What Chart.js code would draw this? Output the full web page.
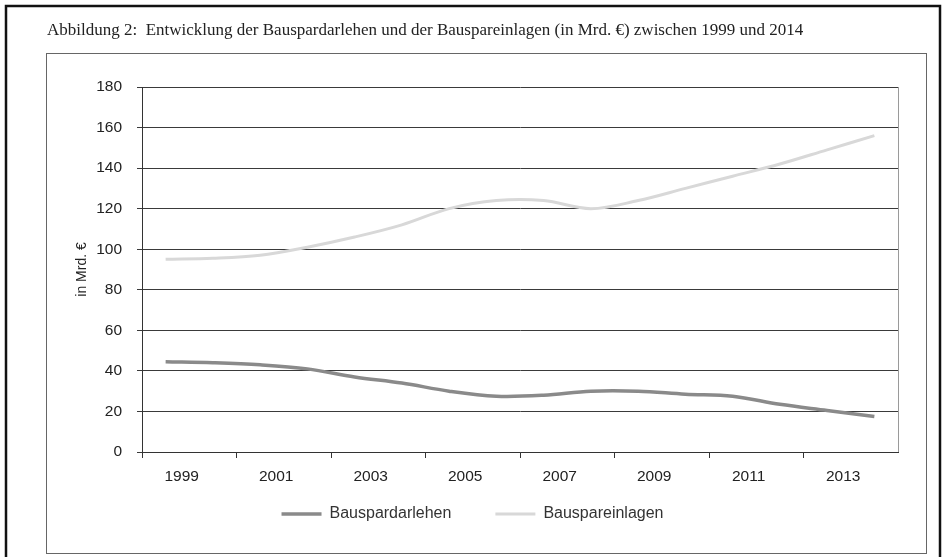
<!DOCTYPE html>
<html><head><meta charset="utf-8">
<script src="https://cdn.jsdelivr.net/npm/chart.js@4.4.1/dist/chart.umd.min.js"></script>
<style>html,body{margin:0;padding:0;background:#fff;} canvas{display:block;}</style>
</head><body>
<canvas id="c" width="946" height="557"></canvas>
<script>
const titleText = 'Abbildung 2:  Entwicklung der Bauspardarlehen und der Bauspareinlagen (in Mrd. €) zwischen 1999 und 2014';
const years = ['1999','2000','2001','2002','2003','2004','2005','2006','2007','2008','2009','2010','2011','2012','2013','2014'];
const seriesNames = ['Bauspardarlehen', 'Bauspareinlagen'];
const bauspardarlehen = [44.5, 44, 43, 41, 37, 34, 30, 27.5, 28, 30, 30, 28.5, 27.5, 23.5, 20.5, 17.5];
const bauspareinlagen = [95, 95.5, 97, 101, 106, 112, 120, 124, 124, 120, 124, 130, 136, 142, 149, 156];
const yMin = 0, yMax = 180, yStep = 20;
const yAxisTitle = 'in Mrd. €';

const sans = "'Liberation Sans', Arial, Helvetica, sans-serif";

const framePlugin = {
  id: 'frame',
  beforeDraw(chart) {
    const ctx = chart.ctx;
    ctx.save();
    ctx.fillStyle = '#ffffff';
    ctx.fillRect(0, 0, chart.width, chart.height);
    ctx.strokeStyle = '#111';
    ctx.lineWidth = 2.5;
    ctx.strokeRect(6, 6, 934, 570);
    ctx.strokeStyle = '#666';
    ctx.lineWidth = 1;
    ctx.strokeRect(46.5, 53.5, 880, 500);
    ctx.restore();
  },
  afterDraw(chart) {
    const a = chart.chartArea, ctx = chart.ctx;
    ctx.save();
    ctx.strokeStyle = '#9a9a9a';
    ctx.lineWidth = 1;
    ctx.beginPath();
    ctx.moveTo(Math.round(a.right) + 0.5, a.top);
    ctx.lineTo(Math.round(a.right) + 0.5, a.bottom);
    ctx.stroke();
    ctx.restore();
  }
};

new Chart(document.getElementById('c'), {
  type: 'line',
  data: {
    labels: years,
    datasets: [
      { label: seriesNames[0], data: bauspardarlehen, borderColor: '#8a8a8a', backgroundColor: '#8a8a8a', borderWidth: 3.5, pointRadius: 0, tension: 0.35, fill: false },
      { label: seriesNames[1], data: bauspareinlagen, borderColor: '#d8d8d8', backgroundColor: '#d8d8d8', borderWidth: 3, pointRadius: 0, tension: 0.35, fill: false }
    ]
  },
  options: {
    responsive: false,
    animation: false,
    devicePixelRatio: 1,
    layout: { padding: { left: 47, right: 48, top: 0, bottom: 25 } },
    plugins: {
      title: {
        display: true, text: titleText, align: 'start', color: '#222',
        font: { family: "'Liberation Serif', 'Times New Roman', serif", size: 17, weight: 'normal' },
        padding: { top: 20, bottom: 46.6 }
      },
      legend: {
        position: 'bottom', align: 'center',
        labels: { usePointStyle: true, pointStyle: 'line', pointStyleWidth: 40, boxHeight: 16, padding: 44, color: '#333', font: { family: sans, size: 16 } }
      },
      tooltip: { enabled: false }
    },
    scales: {
      x: {
        type: 'category', offset: true,
        afterFit(s) { s.height = 10; s._computeLabelArea = function () { return undefined; }; },
        grid: { drawOnChartArea: false, drawTicks: true, tickLength: 6, offset: true, color: (c) => (c.index % 2 === 0 ? '#333' : 'rgba(0,0,0,0)'), lineWidth: 1 },
        border: { display: true, color: '#333', width: 1 },
        ticks: { autoSkip: false, maxRotation: 0, labelOffset: 16, padding: 9, color: '#222', font: { family: sans, size: 15.5 },
          callback: (v, i) => (i % 2 === 0 ? years[i] : '') }
      },
      y: {
        min: yMin, max: yMax,
        afterFit(s) { s.width = 95; },
        grid: { color: '#3a3a3a', lineWidth: 1, tickLength: 5, drawTicks: true },
        border: { display: true, color: '#333', width: 1 },
        ticks: { stepSize: yStep, padding: 15, color: '#222', font: { family: sans, size: 15.5 } },
        title: { display: true, text: yAxisTitle, color: '#222', padding: { top: 27, bottom: 0 }, font: { family: sans, size: 14 } }
      }
    }
  },
  plugins: [framePlugin]
});
</script>
</body></html>
